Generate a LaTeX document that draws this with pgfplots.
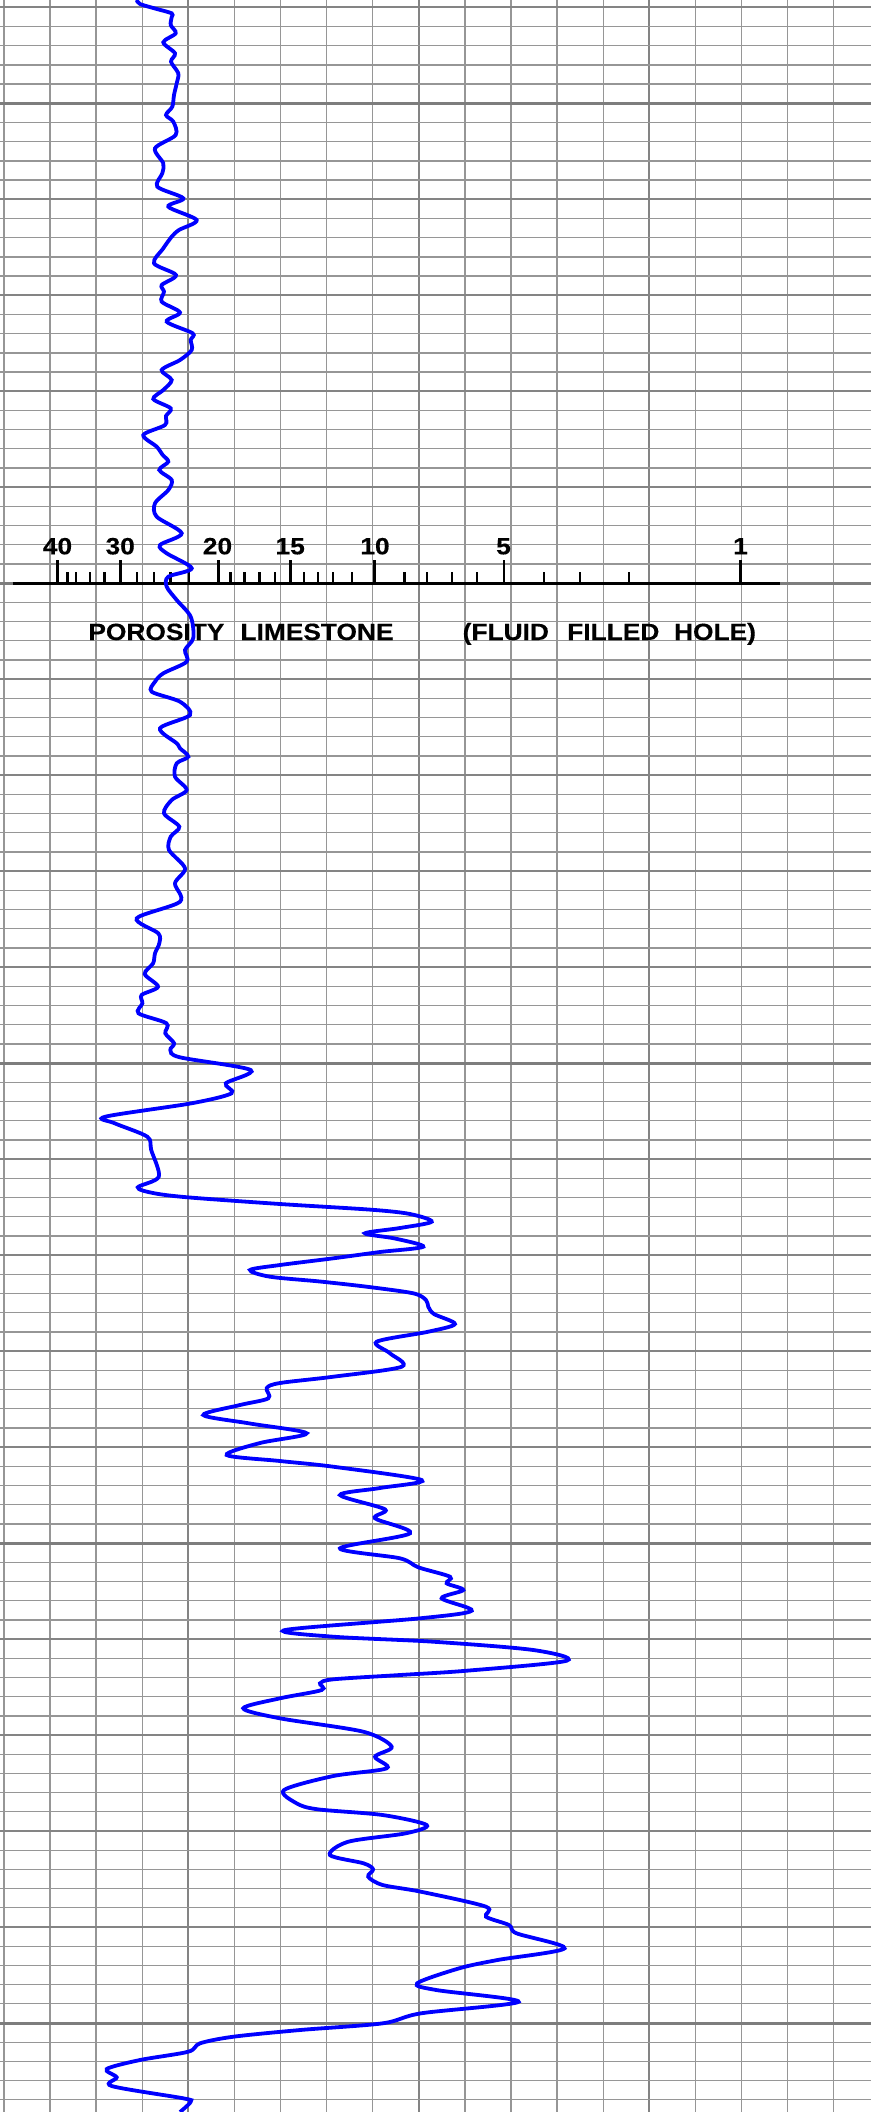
\documentclass[border=0pt]{standalone}
\usepackage{pgfplots}
\pgfplotsset{compat=1.18}
\usepackage{fontspec}
\setmainfont{Liberation Sans}
\newfontfamily\labfont[FakeStretch=1.12, BoldFeatures={FakeBold=0.35}]{Liberation Sans}
\definecolor{gminor}{RGB}{150,150,150}
\definecolor{gmajor}{RGB}{132,132,132}
\definecolor{gheavy}{RGB}{125,125,125}
\definecolor{curveblue}{RGB}{0,0,255}
\begin{document}
\begin{tikzpicture}
\begin{axis}[
  name=ax, scale only axis, width=871pt, height=2112pt,
  xmin=0, xmax=871, ymin=0, ymax=2112, y dir=reverse,
  axis line style={draw=none}, major tick length=0pt, minor tick length=0pt,
  tick style={draw=none},
  xticklabels={}, yticklabels={},
  xtick={188.3,418.8,649.3},
  minor xtick={3.9,50.0,96.1,142.2,234.4,280.5,326.6,372.7,464.9,511.0,557.1,603.2,695.4,741.5,787.6,833.7},
  ytick={7.3,103.285,...,2024},
  minor ytick={7.3,26.497,...,2101},
  extra y ticks={103.3,583.2,1063.1,1543.1,2023.0},
  extra y tick labels={},
  extra y tick style={major grid style={gheavy, line width=3pt}},
  grid=both,
  major grid style={gmajor, line width=2.2pt},
  minor grid style={gminor, line width=1.3pt},
  unbounded coords=jump,
]
% ruler baseline
\addplot[black, line width=3.8pt] coordinates {(12.5,583.5) (780,583.5)};
% long ticks (40,30,20,15,10,5,1)
\addplot[black, line width=2.6pt] coordinates {
 (57.5,583.5) (57.5,560) (nan,nan)
 (120.2,583.5) (120.2,560) (nan,nan)
 (218.2,583.5) (218.2,560) (nan,nan)
 (290.2,583.5) (290.2,560) (nan,nan)
 (374.5,583.5) (374.5,560) (nan,nan)
 (504,583.5) (504,560) (nan,nan)
 (740.7,583.5) (740.7,560)};
% short ticks
\addplot[black, line width=2.2pt] coordinates {
 (67.5,583.5) (67.5,571.5) (nan,nan)
 (75.8,583.5) (75.8,571.5) (nan,nan)
 (89.8,583.5) (89.8,571.5) (nan,nan)
 (104.5,583.5) (104.5,571.5) (nan,nan)
 (137,583.5) (137,571.5) (nan,nan)
 (153.8,583.5) (153.8,571.5) (nan,nan)
 (170.5,583.5) (170.5,571.5) (nan,nan)
 (189,583.5) (189,571.5) (nan,nan)
 (230.5,583.5) (230.5,571.5) (nan,nan)
 (244.5,583.5) (244.5,571.5) (nan,nan)
 (259.5,583.5) (259.5,571.5) (nan,nan)
 (274.8,583.5) (274.8,571.5) (nan,nan)
 (304,583.5) (304,571.5) (nan,nan)
 (318.3,583.5) (318.3,571.5) (nan,nan)
 (333.3,583.5) (333.3,571.5) (nan,nan)
 (351.7,583.5) (351.7,571.5) (nan,nan)
 (404.5,583.5) (404.5,571.5) (nan,nan)
 (427.3,583.5) (427.3,571.5) (nan,nan)
 (452,583.5) (452,571.5) (nan,nan)
 (477,583.5) (477,571.5) (nan,nan)
 (544.3,583.5) (544.3,571.5) (nan,nan)
 (580.3,583.5) (580.3,571.5) (nan,nan)
 (629,583.5) (629,571.5)};
% labels
\tikzset{lab/.style={font=\labfont\bfseries\fontsize{23.5}{24}\selectfont, anchor=base, inner sep=0pt}}
\node[lab] at (axis cs:57.5,554.3) {40};
\node[lab] at (axis cs:120.2,554.3) {30};
\node[lab] at (axis cs:217.5,554.3) {20};
\node[lab] at (axis cs:290.2,554.3) {15};
\node[lab] at (axis cs:375,554.3) {10};
\node[lab] at (axis cs:503.5,554.3) {5};
\node[lab] at (axis cs:740.5,554.3) {1};
\node[lab] at (axis cs:156.4,640) {POROSITY};
\node[lab] at (axis cs:317,640) {LIMESTONE};
\node[lab] at (axis cs:505.8,640) {(FLUID};
\node[lab] at (axis cs:613.3,640) {FILLED};
\node[lab] at (axis cs:715,640) {HOLE)};
% log curve
\addplot[curveblue, line width=3.8pt, smooth] coordinates {
(136.7,0) (140,4) (155,8.5) (171.7,13.3) (171.7,17) (170.7,25) (175.7,33.3) (163.3,42.3) (175,53.3) (171,61.7)
(178.3,73.3) (176.7,83.3) (174,95) (172.3,106.7) (166,115) (173.3,121.7) (175.7,135) (155,148.3) (163.3,163.3)
(162.3,173.3) (157.3,186.7) (183.3,198.3) (168.3,206.7) (196.7,220) (179,230) (171.7,236.7) (163.3,248.3)
(154,263.3) (176,275) (161.7,285) (164,291.7) (161.7,301.7) (180,312.5) (166.7,321.7) (192.7,333.3) (190.7,340)
(191.7,350) (180,360) (161.7,370) (171.7,380) (163.3,390) (153.3,399) (170.7,408.3) (166,416) (165,425)
(143.3,435) (156.7,446.7) (162.7,455) (168.3,461.7) (159.3,470) (171.7,480) (168.3,490) (155,503.3) (156.7,516.7)
(181.7,533.3) (160,545) (166.7,553.3) (191.7,568.3) (168.3,576.7) (166.7,586.7) (176.7,600) (190.7,616.7)
(193.3,638) (185,650) (186.7,661.7) (163.3,673.3) (155,681.7) (151.7,691.7) (180,701.7) (190,715) (160,728.3)
(176.7,743.3) (180,748.3) (188.3,756.7) (176.7,763.3) (175,776.7) (186.7,790) (171.7,800) (164,813.3)
(179.3,826.7) (170.7,836.7) (169,850) (185,868.3) (175,883.3) (180,901.7) (136.7,918.3) (158.3,933.3)
(159.3,943.3) (155,953.3) (153.1,963.3) (144.7,974) (158,986.7) (141.6,995) (142.4,1003.3) (138.5,1013.3)
(166.5,1023.3) (165.3,1033.3) (174.1,1043.3) (170.3,1050) (179.9,1057.3) (250.7,1070) (225.8,1083.3)
(231.5,1093.3) (191.4,1103.3) (105.2,1116.7) (114.8,1123.3) (147.3,1136.7) (151.2,1150) (158.8,1176.7)
(137.8,1187.3) (153,1193) (187.5,1197.3) (280,1204) (371.2,1209.7) (410,1214) (431.7,1221.7) (400,1228)
(365,1233.3) (395,1238.5) (423.3,1246.7) (380,1252) (333.3,1258.3) (280,1265) (250,1270) (270,1276.7)
(320,1281.5) (366.7,1286.7) (413.3,1293.3) (426,1300) (428.3,1306.7) (434,1314) (455,1324) (428.3,1331.7)
(376.7,1341.7) (390,1353.3) (401.7,1366.7) (333.3,1376.7) (280,1383) (266.7,1388) (268.3,1398.3) (240,1405)
(203.3,1415) (250,1423.5) (306.7,1433.3) (260,1443) (226.7,1455) (280,1461) (333.3,1466.7) (421.7,1480)
(380,1488) (340,1495) (385,1509.3) (375,1518.3) (410,1533.3) (340,1548.3) (400,1558.3) (418.3,1567.3)
(450,1576.7) (446.7,1583.3) (463.3,1590) (441.7,1598.3) (471.7,1610.7) (420,1618.3) (285,1630) (333.3,1636.7)
(433.3,1641.7) (533.3,1650) (566.7,1660.7) (466.7,1670.7) (400,1675) (333.3,1679.3) (320,1683.3) (321.7,1690)
(280,1698.3) (243.3,1708.3) (280,1718.3) (363.3,1731.7) (391.7,1746.7) (375,1756.7) (386.7,1768.3) (333.3,1776)
(284,1790) (296.6,1803.3) (317.6,1809.3) (382.7,1815) (426.7,1825) (405.7,1833.3) (348.3,1841.7) (329.9,1855)
(363.6,1863.3) (373.1,1869.3) (368.2,1876.7) (382.7,1885) (421,1891.7) (486,1906.7) (486,1916.7) (509,1925)
(516.6,1933.3) (564.5,1948.3) (497.5,1960) (459.2,1968.3) (417.1,1983.3) (436.3,1990) (518.6,2001.7)
(421,2013.3) (382.7,2023.3) (300,2030) (233.3,2036.7) (200,2043.3) (188.3,2051.7) (140,2060) (106.7,2069)
(116.7,2077.3) (111.7,2086) (183.3,2098.3) (190.7,2101.7) (180,2112)};
\end{axis}
\pgfresetboundingbox
\path[use as bounding box] (ax.south west) rectangle (ax.north east);
\end{tikzpicture}
\end{document}
